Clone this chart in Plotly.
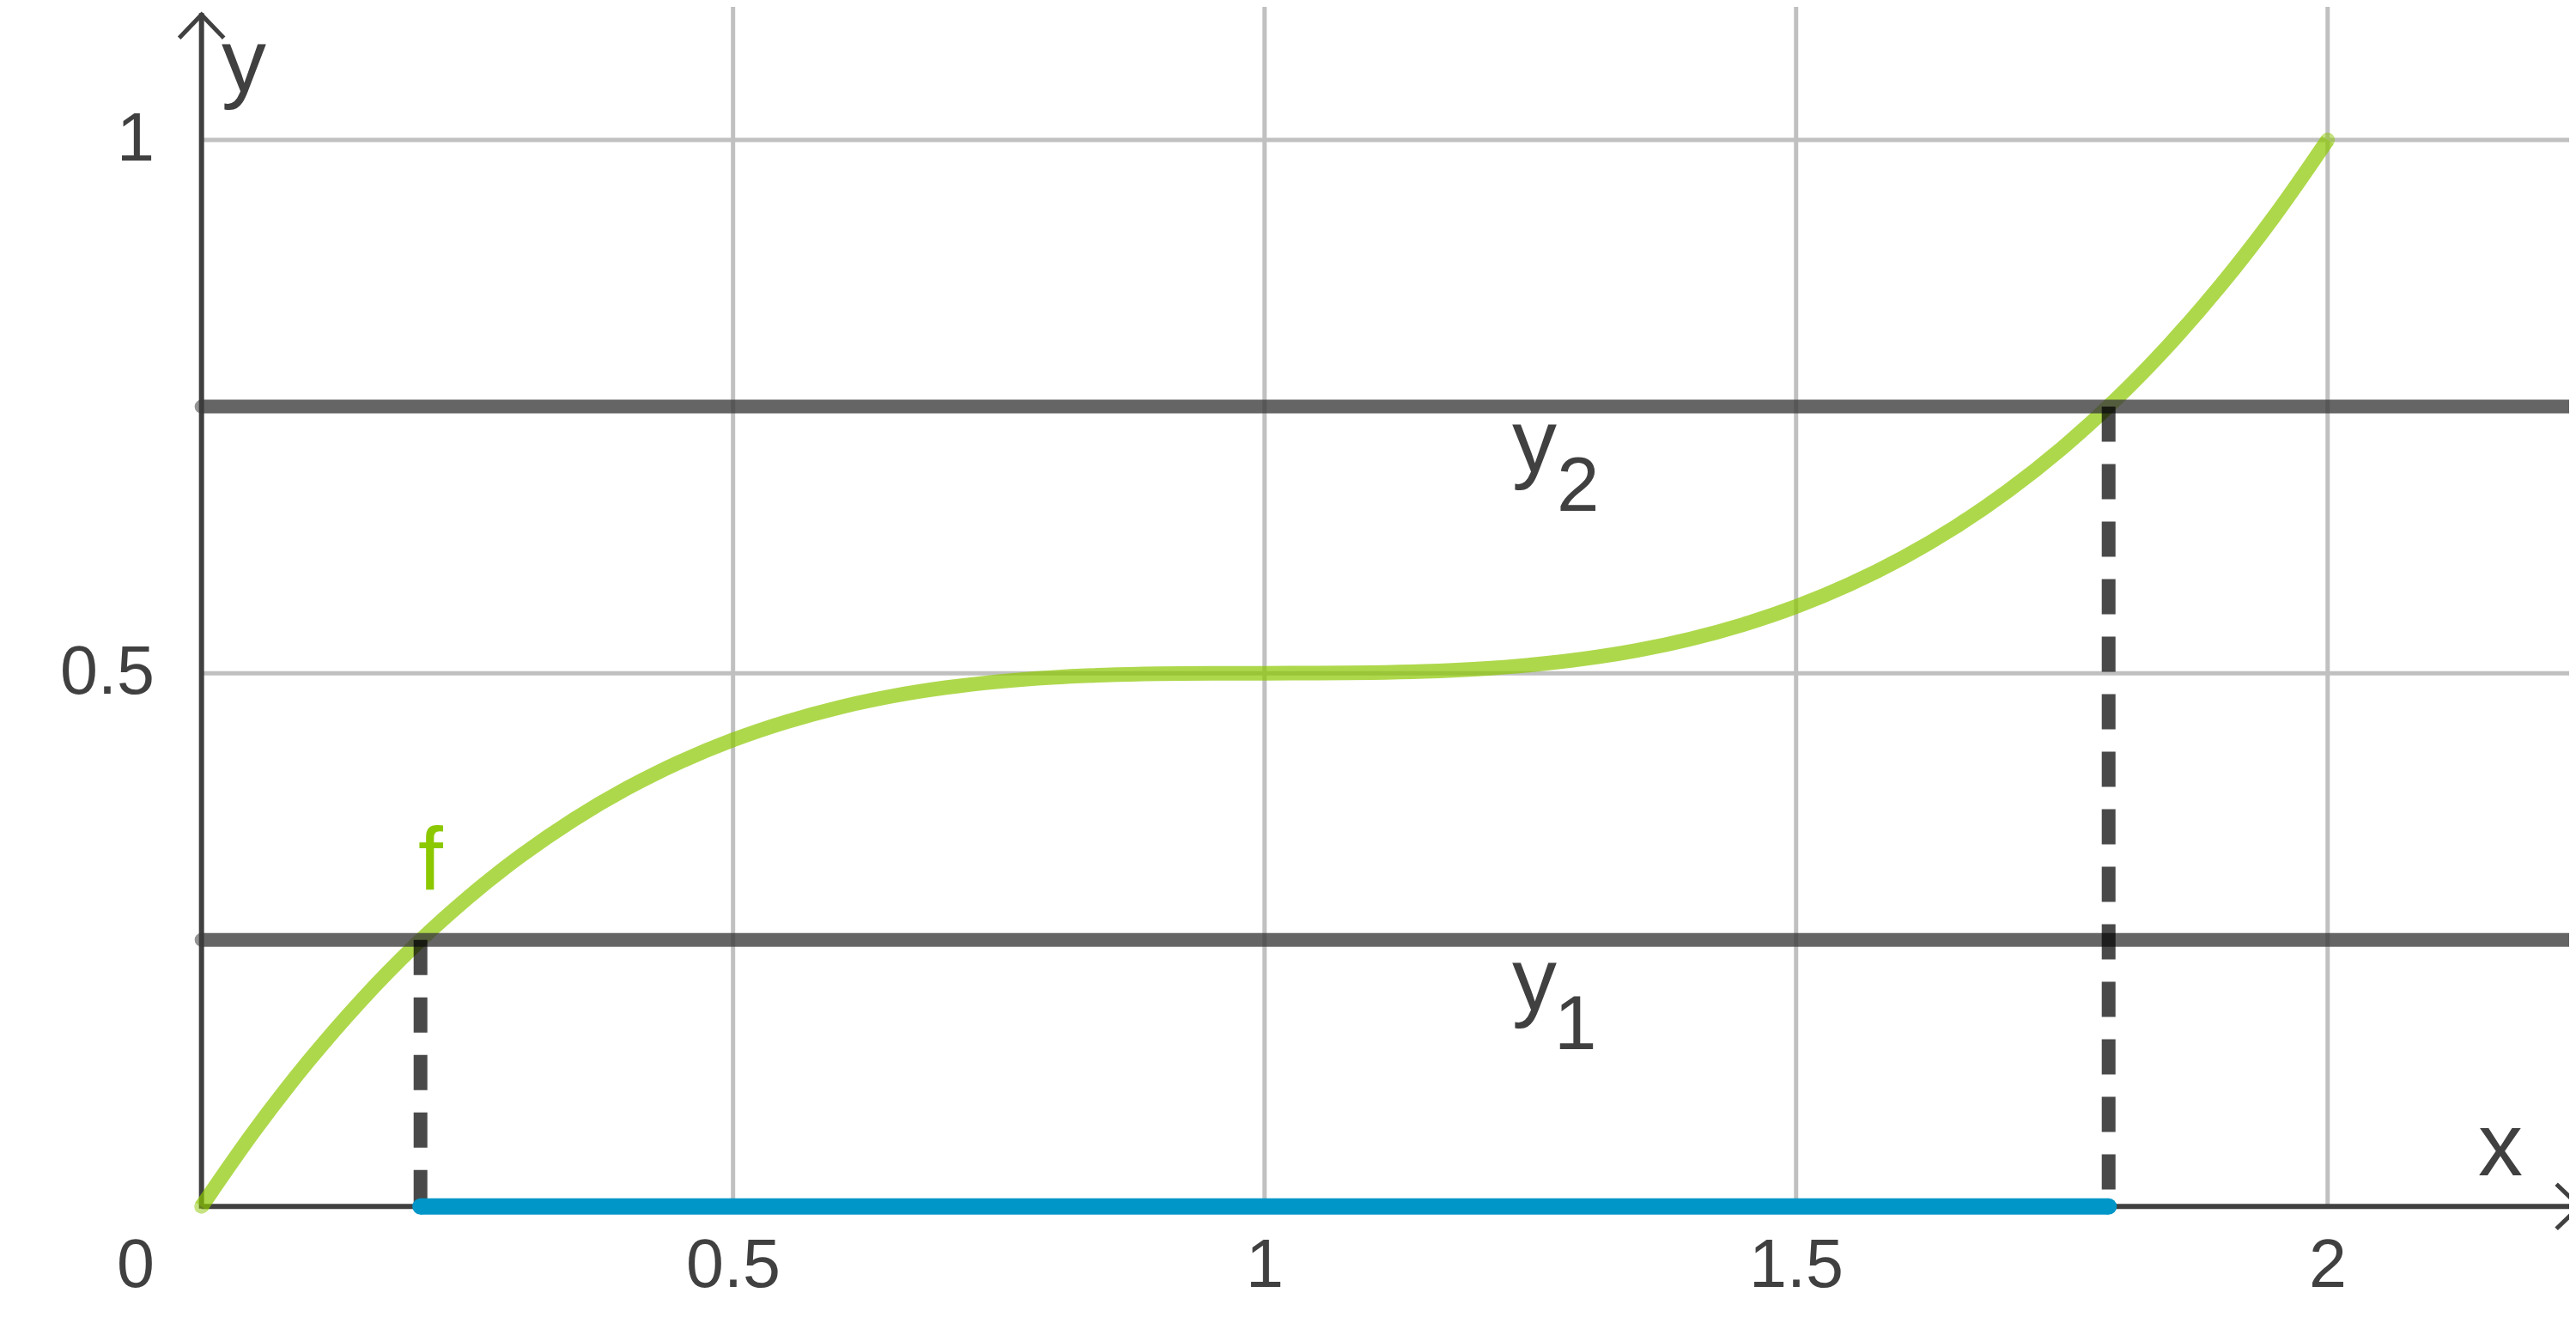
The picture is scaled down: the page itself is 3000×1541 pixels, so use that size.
import plotly.graph_objects as go

# ---- data ----
curve_x = [0.0, 0.05, 0.1, 0.15, 0.2, 0.25, 0.3, 0.35, 0.4, 0.45, 0.5,
           0.55, 0.6, 0.65, 0.7, 0.75, 0.8, 0.85, 0.9, 0.95, 1.0,
           1.05, 1.1, 1.15, 1.2, 1.25, 1.3, 1.35, 1.4, 1.45, 1.5,
           1.55, 1.6, 1.65, 1.7, 1.75, 1.8, 1.85, 1.9, 1.95, 2.0]
curve_y = [0.0, 0.0713, 0.1355, 0.1929, 0.244, 0.2891, 0.3285, 0.3627, 0.392, 0.4168, 0.4375,
           0.4544, 0.468, 0.4786, 0.4865, 0.4922, 0.496, 0.4983, 0.4995, 0.4999, 0.5,
           0.5001, 0.5005, 0.5017, 0.504, 0.5078, 0.5135, 0.5214, 0.532, 0.5456, 0.5625,
           0.5832, 0.608, 0.6373, 0.6715, 0.7109, 0.756, 0.8071, 0.8645, 0.9287, 1.0]
level_values = [0.25, 0.75]          # y1, y2
preimage_x = [0.206, 1.794]          # where f meets y1 and y2
x_tick_vals = [0.5, 1, 1.5, 2]
x_tick_text = ["0.5", "1", "1.5", "2"]
y_tick_vals = [0.5, 1]
y_tick_text = ["0.5", "1"]
origin_label = "0"

# ---- layout constants ----
X_RANGE = [-0.1831, 2.2401]
Y_RANGE = [-0.1157, 1.1248]
X_TIP = 2.2386
Y_TIP = 1.119
FONT = "Liberation Sans, Arial, Helvetica, sans-serif"
TXT = "#404040"
AXIS = "#404040"
GRID = "#c0c0c0"
GREEN = "rgb(140,200,0)"
BLUE = "#0096c8"

fig = go.Figure()

# curve f
n = len(curve_x)
fig.add_trace(go.Scatter(
    x=curve_x, y=curve_y, mode="lines+markers",
    line=dict(color=GREEN, width=17, shape="spline", smoothing=1, simplify=False),
    marker=dict(color=GREEN, size=[17] + [0] * (n - 2) + [17], line=dict(width=0)),
    opacity=0.7, hoverinfo="skip", showlegend=False))

# horizontal levels y1, y2
for v in level_values:
    fig.add_trace(go.Scatter(
        x=[0, X_RANGE[1]], y=[v, v], mode="lines+markers",
        line=dict(color="#3a3a3a", width=16),
        marker=dict(color="#3a3a3a", size=[16, 0], line=dict(width=0)),
        opacity=0.78, hoverinfo="skip", showlegend=False))

# dashed verticals
for xv, v in zip(preimage_x, level_values):
    fig.add_trace(go.Scatter(
        x=[xv, xv], y=[v, 0], mode="lines",
        line=dict(color="#000000", width=16, dash="41px,26px"),
        opacity=0.71, hoverinfo="skip", showlegend=False))

# preimage interval on x axis
fig.add_trace(go.Scatter(
    x=preimage_x, y=[0, 0], mode="lines+markers",
    line=dict(color=BLUE, width=19),
    marker=dict(color=BLUE, size=19, line=dict(width=0)),
    hoverinfo="skip", showlegend=False))

shapes = []
for v in x_tick_vals:
    shapes.append(dict(type="line", xref="x", yref="y", x0=v, x1=v, y0=0, y1=Y_RANGE[1],
                       line=dict(color=GRID, width=5), layer="below"))
for v in y_tick_vals:
    shapes.append(dict(type="line", xref="x", yref="y", x0=0, x1=X_RANGE[1], y0=v, y1=v,
                       line=dict(color=GRID, width=5), layer="below"))
# axes
shapes.append(dict(type="line", xref="x", yref="y", x0=0, x1=X_TIP, y0=0, y1=0,
                   line=dict(color=AXIS, width=6), layer="below"))
shapes.append(dict(type="line", xref="x", yref="y", x0=0, x1=0, y0=-0.002, y1=Y_TIP,
                   line=dict(color=AXIS, width=6), layer="below"))
# chevron arrowheads (pixel-sized, anchored at the axis tips)
shapes.append(dict(type="path", xref="x", yref="y", xsizemode="pixel", ysizemode="pixel",
                   xanchor=X_TIP, yanchor=0, path="M-29,26 L-2,0 L-29,-26",
                   line=dict(color=AXIS, width=5), fillcolor="rgba(0,0,0,0)", layer="below"))
shapes.append(dict(type="path", xref="x", yref="y", xsizemode="pixel", ysizemode="pixel",
                   xanchor=0, yanchor=Y_TIP, path="M-26,-29 L0,-2 L26,-29",
                   line=dict(color=AXIS, width=5), fillcolor="rgba(0,0,0,0)", layer="below"))

ann = []
tick_font = dict(family=FONT, size=79, color=TXT)
for v, t in zip(x_tick_vals, x_tick_text):
    ann.append(dict(x=v, y=0, xref="x", yref="y", text=t, showarrow=False,
                    xanchor="center", yanchor="middle", yshift=-66, borderpad=0, font=tick_font))
for v, t in zip(y_tick_vals, y_tick_text):
    ann.append(dict(x=0, y=v, xref="x", yref="y", text=t, showarrow=False,
                    xanchor="right", yanchor="middle", xshift=-54, yshift=4, borderpad=0, font=tick_font))
ann.append(dict(x=0, y=0, xref="x", yref="y", text=origin_label, showarrow=False,
                xanchor="right", yanchor="middle", xshift=-54, yshift=-66, borderpad=0, font=tick_font))

lab_font = dict(family=FONT, size=104, color=TXT)
sub_font = dict(family=FONT, size=89, color=TXT)
def label(x, y, t, font):
    ann.append(dict(x=x, y=y, xref="x", yref="y", text=t, showarrow=False,
                    xanchor="center", yanchor="middle", xshift=-6, yshift=8,
                    borderpad=0, font=font))

label(0.0447, 1.0684, "y", lab_font)
label(2.1675, 0.0518, "x", lab_font)
label(0.2208, 0.3198, "f", dict(family=FONT, size=104, color="#8cc800"))
label(1.2587, 0.2071, "y", lab_font)
label(1.2975, 0.1657, "1", sub_font)
label(1.2587, 0.7118, "y", lab_font)
label(1.3001, 0.6704, "2", sub_font)

fig.update_layout(
    width=3000, height=1541,
    margin=dict(l=0, r=0, t=0, b=0),
    paper_bgcolor="white", plot_bgcolor="white",
    xaxis=dict(range=X_RANGE, visible=False, fixedrange=True),
    yaxis=dict(range=Y_RANGE, visible=False, fixedrange=True),
    shapes=shapes, annotations=ann, showlegend=False,
)

fig.write_html("out.html", config={"displayModeBar": False})
